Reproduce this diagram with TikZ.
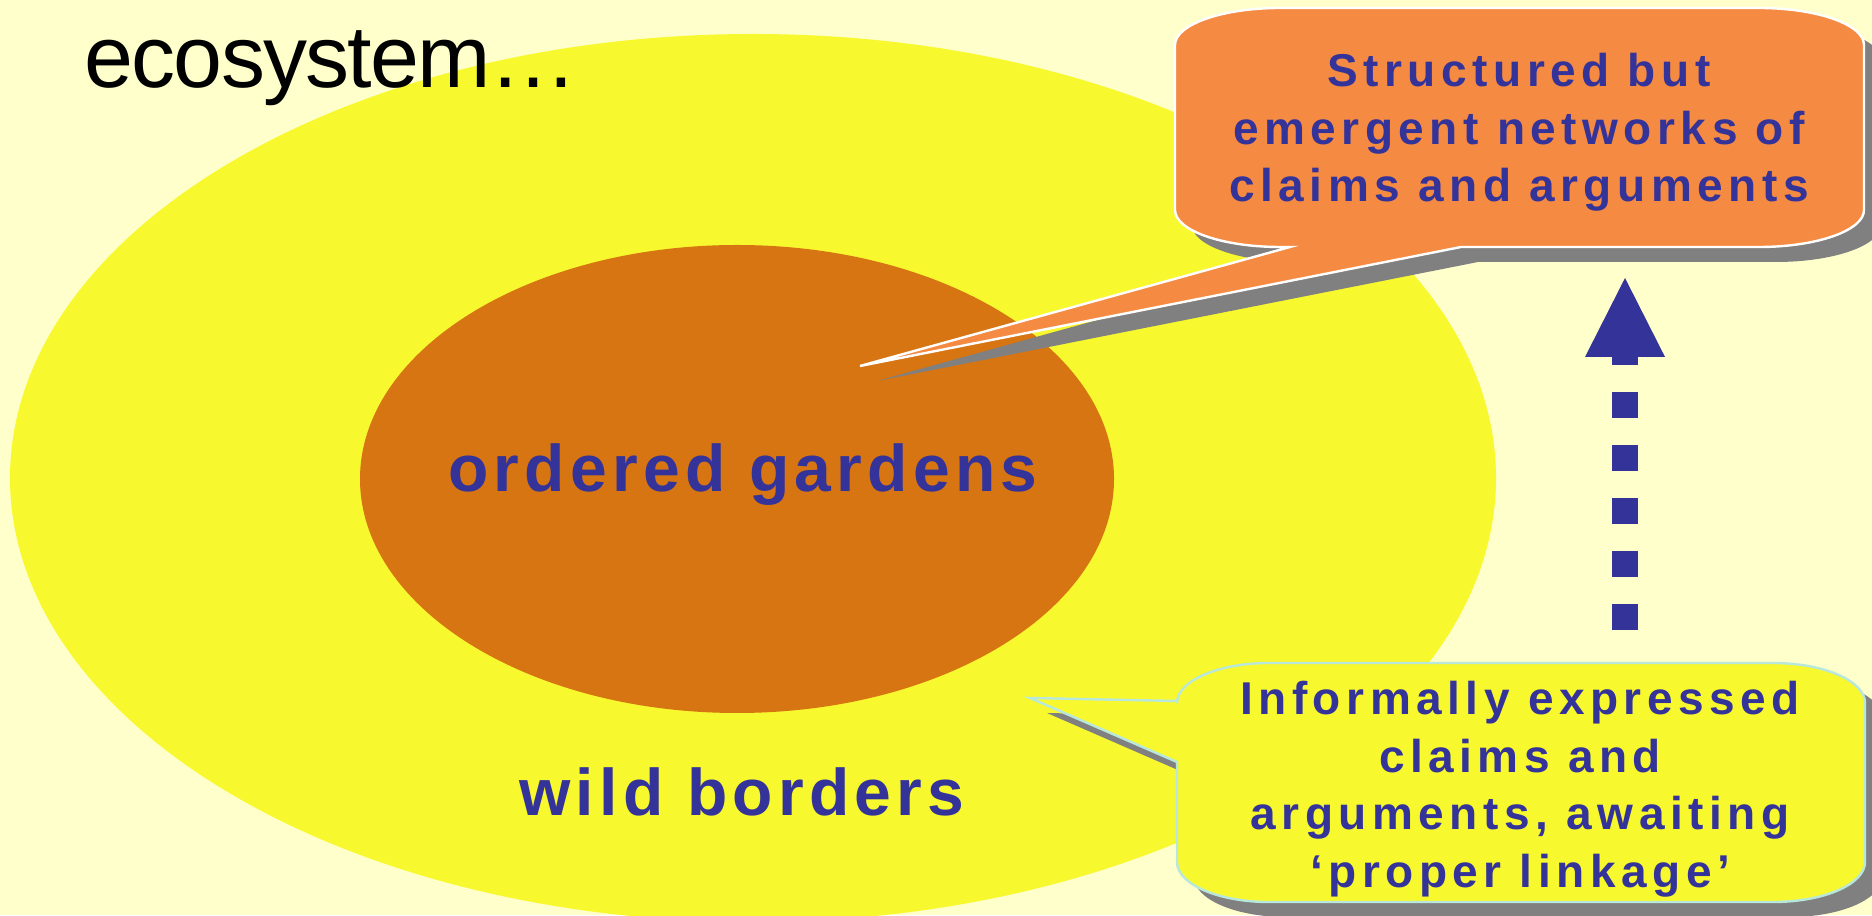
\documentclass[tikz,border=0pt]{standalone}
\usepackage{fontspec}
\setmainfont{Liberation Sans}
\newfontfamily\titlefont[LetterSpace=-2]{Liberation Sans}
\newfontfamily\regionfont[LetterSpace=8]{Liberation Sans}
\newfontfamily\calloutfont[LetterSpace=12]{Liberation Sans}
\usepackage{tikz}
\usepackage{xcolor}
\usetikzlibrary{positioning, shapes.geometric, shadows, arrows.meta}

\definecolor{bgcream}{HTML}{FFFFCC}
\definecolor{wildyellow}{HTML}{F8F82E}
\definecolor{gardenorange}{HTML}{D67512}
\definecolor{calloutorange}{HTML}{F58A42}
\definecolor{labelblue}{HTML}{333399}
\definecolor{shadowgray}{HTML}{808080}
\definecolor{calloutedge}{HTML}{B8E8DC}

\begin{document}
\begin{tikzpicture}[x=0.5pt, y=0.5pt,
    region/.style={ellipse, inner sep=0pt},
    bluelabel/.style={text=labelblue, inner sep=0pt, anchor=base},
    callout/.style={line width=1.2pt, drop shadow={shadow xshift=8.5pt, shadow yshift=-7.5pt, opacity=1, fill=shadowgray}}]
    \fill[bgcream] (0, 0) rectangle (1872, 915);
    \useasboundingbox (0, 0) rectangle (1872, 915);

    \node[region, fill=wildyellow, minimum width=743pt, minimum height=444pt] (wild) at (753, 437) {};
    \node[region, fill=gardenorange, minimum width=377pt, minimum height=234pt] (garden) at (737, 436) {};

    \node[anchor=base west, inner sep=0pt, font=\titlefont\fontsize{44pt}{50pt}\selectfont] (title) at (84, 827) {ecosystem…};
    \node[bluelabel, font=\regionfont\bfseries\fontsize{33pt}{40pt}\selectfont] (gardenlabel) at (743, 423) {ordered gardens};
    \node[bluelabel, font=\regionfont\bfseries\fontsize{33pt}{40pt}\selectfont] (wildlabel) at (742, 99) {wild borders};

    % callout pointing into the garden
    \coordinate (orangetip) at (860, 549);
    \draw[callout, draw=white, fill=calloutorange] (1290, 668) -- (orangetip) -- (1461, 668) -- (1759, 668)
        arc[start angle=270, end angle=360, x radius=105, y radius=37] -- (1864, 870)
        arc[start angle=0, end angle=90, x radius=105, y radius=37] -- (1280, 907)
        arc[start angle=90, end angle=180, x radius=105, y radius=37] -- (1175, 705)
        arc[start angle=180, end angle=270, x radius=105, y radius=37] -- cycle;
    \node[bluelabel, align=center, font=\calloutfont\bfseries\fontsize{23pt}{28.75pt}\selectfont] (structured) at (1519, 713) {Structured but\\emergent networks of\\claims and arguments};

    % callout pointing into the borders
    \coordinate (yellowtip) at (1030, 217);
    \draw[callout, draw=calloutedge, fill=wildyellow] (1177, 214) -- (yellowtip) -- (1177, 153) -- (1177, 53)
        arc[start angle=180, end angle=270, x radius=92, y radius=40] -- (1773, 13)
        arc[start angle=270, end angle=360, x radius=92, y radius=40] -- (1865, 212)
        arc[start angle=0, end angle=90, x radius=92, y radius=40] -- (1269, 252)
        arc[start angle=90, end angle=180, x radius=92, y radius=40] -- cycle;
    \node[bluelabel, align=center, font=\calloutfont\bfseries\fontsize{23pt}{28.75pt}\selectfont] (informal) at (1520, 28) {Informally expressed\\claims and\\arguments, awaiting\\‘proper linkage’};

    \coordinate (arrowfoot) at (1625, 285);
    \coordinate (arrowtip) at (1625, 637);
    \draw[labelblue, line width=13pt, dash pattern=on 13pt off 13.5pt, -{Triangle[width=40pt, length=39.5pt, line width=0pt]}] (arrowfoot) -- (arrowtip);
\end{tikzpicture}
\end{document}
